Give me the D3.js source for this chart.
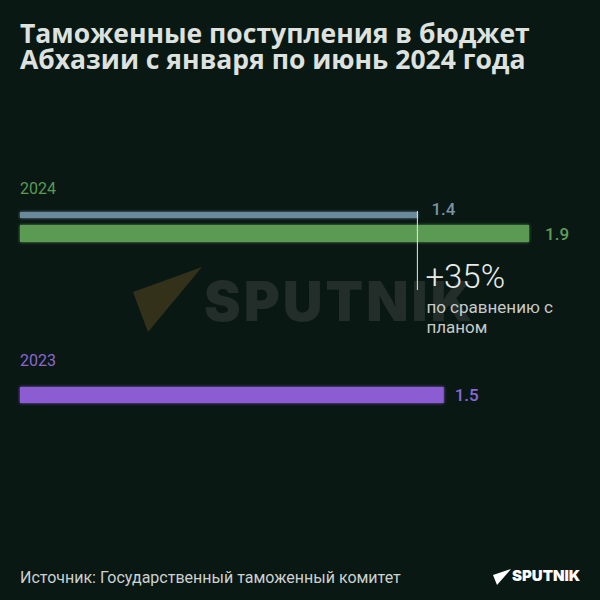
<!DOCTYPE html>
<html>
<head>
<meta charset="utf-8">
<script src="https://cdn.jsdelivr.net/npm/d3@7"></script>
<style>
  html, body { margin: 0; padding: 0; background: #0a1814; }
  svg { display: block; }
</style>
</head>
<body>
<div id="chart"></div>
<script>
const titleLines = ["Таможенные поступления в бюджет", "Абхазии с января по июнь 2024 года"];
const groups = ["2024", "2023"];
const barNames = ["plan2024", "fact2024", "fact2023"];
const barValues = [1.4, 1.9, 1.5];
const barLabels = ["1.4", "1.9", "1.5"];
const barColors = ["#6b8a9c", "#5a9a52", "#8b5bd2"];
const labelColors = ["#7a93a3", "#5f9d58", "#8a68d4"];
const groupColors = ["#5a9a55", "#8a68d0"];
const noteLines = ["+35%", "по сравнению с", "планом"];
const source = "Источник: Государственный таможенный комитет";

const W = 600, H = 600;
const svg = d3.select("#chart").append("svg").attr("width", W).attr("height", H);
svg.append("rect").attr("width", W).attr("height", H).attr("fill", "#0a1814");

const defs = svg.append("defs");
const glow = defs.append("filter").attr("id", "glow").attr("x", "-5%").attr("y", "-50%").attr("width", "110%").attr("height", "200%");
glow.append("feGaussianBlur").attr("in", "SourceGraphic").attr("stdDeviation", 1.5).attr("result", "b");
const merge = glow.append("feMerge");
merge.append("feMergeNode").attr("in", "b");
merge.append("feMergeNode").attr("in", "SourceGraphic");

// watermark
const wm = svg.append("g");
wm.append("path").attr("d", "M202,267 L133,292 L148,332 Z").attr("fill", "#33311a");
wm.append("text").attr("x", 204).attr("y", 321).text("SPUTNIK")
  .attr("font-family", "Inter, 'Open Sans', sans-serif").attr("font-weight", 900)
  .attr("font-size", 55).attr("fill", "#232d2a").attr("letter-spacing", 3);

// title
svg.append("g").selectAll("text").data(titleLines).join("text")
  .attr("x", 20).attr("y", (d, i) => 43 + i * 26)
  .attr("font-family", "'Open Sans', sans-serif").attr("font-weight", 700)
  .attr("font-size", 26.5).attr("fill", "#dde2df").text(d => d);

// scales
const x = d3.scaleLinear().domain([-0.38, 1.9]).range([20, 529]);
const y = d3.scaleOrdinal().domain(barNames).range([212, 225, 387]);
const h = d3.scaleOrdinal().domain(barNames).range([6, 17, 16]);
const gy = d3.scaleOrdinal().domain(groups).range([194, 366]);

svg.append("g").selectAll("text").data(groups).join("text")
  .attr("x", 20).attr("y", d => gy(d))
  .attr("font-family", "Roboto, sans-serif").attr("font-size", 16)
  .attr("fill", (d, i) => groupColors[i]).text(d => d);

const bars = svg.append("g");
bars.selectAll("rect").data(barNames).join("rect")
  .attr("x", x.range()[0]).attr("y", d => y(d))
  .attr("width", (d, i) => x(barValues[i]) - x.range()[0] + (i === 2 ? 4 : 0))
  .attr("height", d => h(d))
  .attr("fill", (d, i) => barColors[i])
  .attr("filter", "url(#glow)");

bars.selectAll("text").data(barNames).join("text")
  .attr("x", (d, i) => x(barValues[i]) + (i === 0 ? 14 : (i === 2 ? 15 : 16)))
  .attr("y", d => y(d) + h(d) / 2 + (d === "plan2024" ? 0 : 6))
  .attr("font-family", "Roboto, sans-serif").attr("font-weight", 500)
  .attr("font-size", 17).attr("fill", (d, i) => labelColors[i])
  .text((d, i) => barLabels[i]);

// annotation
const lx = x(barValues[0]);
svg.append("line").attr("x1", lx).attr("x2", lx).attr("y1", 211).attr("y2", 290)
  .attr("stroke", "#e6e6e6").attr("stroke-width", 1);
svg.append("text").attr("x", lx + 8).attr("y", 288)
  .attr("font-family", "Roboto, sans-serif").attr("font-weight", 300)
  .attr("font-size", 33).attr("fill", "#e8ebe9").text(noteLines[0]);
svg.append("g").selectAll("text").data(noteLines.slice(1)).join("text")
  .attr("x", lx + 9).attr("y", (d, i) => 313 + i * 20)
  .attr("font-family", "Roboto, sans-serif").attr("font-size", 17)
  .attr("fill", "#c6cbc8").text(d => d);

// footer
svg.append("text").attr("x", 20).attr("y", 583)
  .attr("font-family", "Roboto, sans-serif").attr("font-size", 16)
  .attr("fill", "#cdd2cf").text(source);
const logo = svg.append("g");
logo.append("path").attr("d", "M511,569 L493,575 L497,585 Z").attr("fill", "#ffffff");
logo.append("text").attr("x", 512).attr("y", 581)
  .attr("font-family", "Inter, sans-serif").attr("font-weight", 900)
  .attr("font-size", 15).attr("fill", "#ffffff").text("SPUTNIK");
</script>
</body>
</html>
